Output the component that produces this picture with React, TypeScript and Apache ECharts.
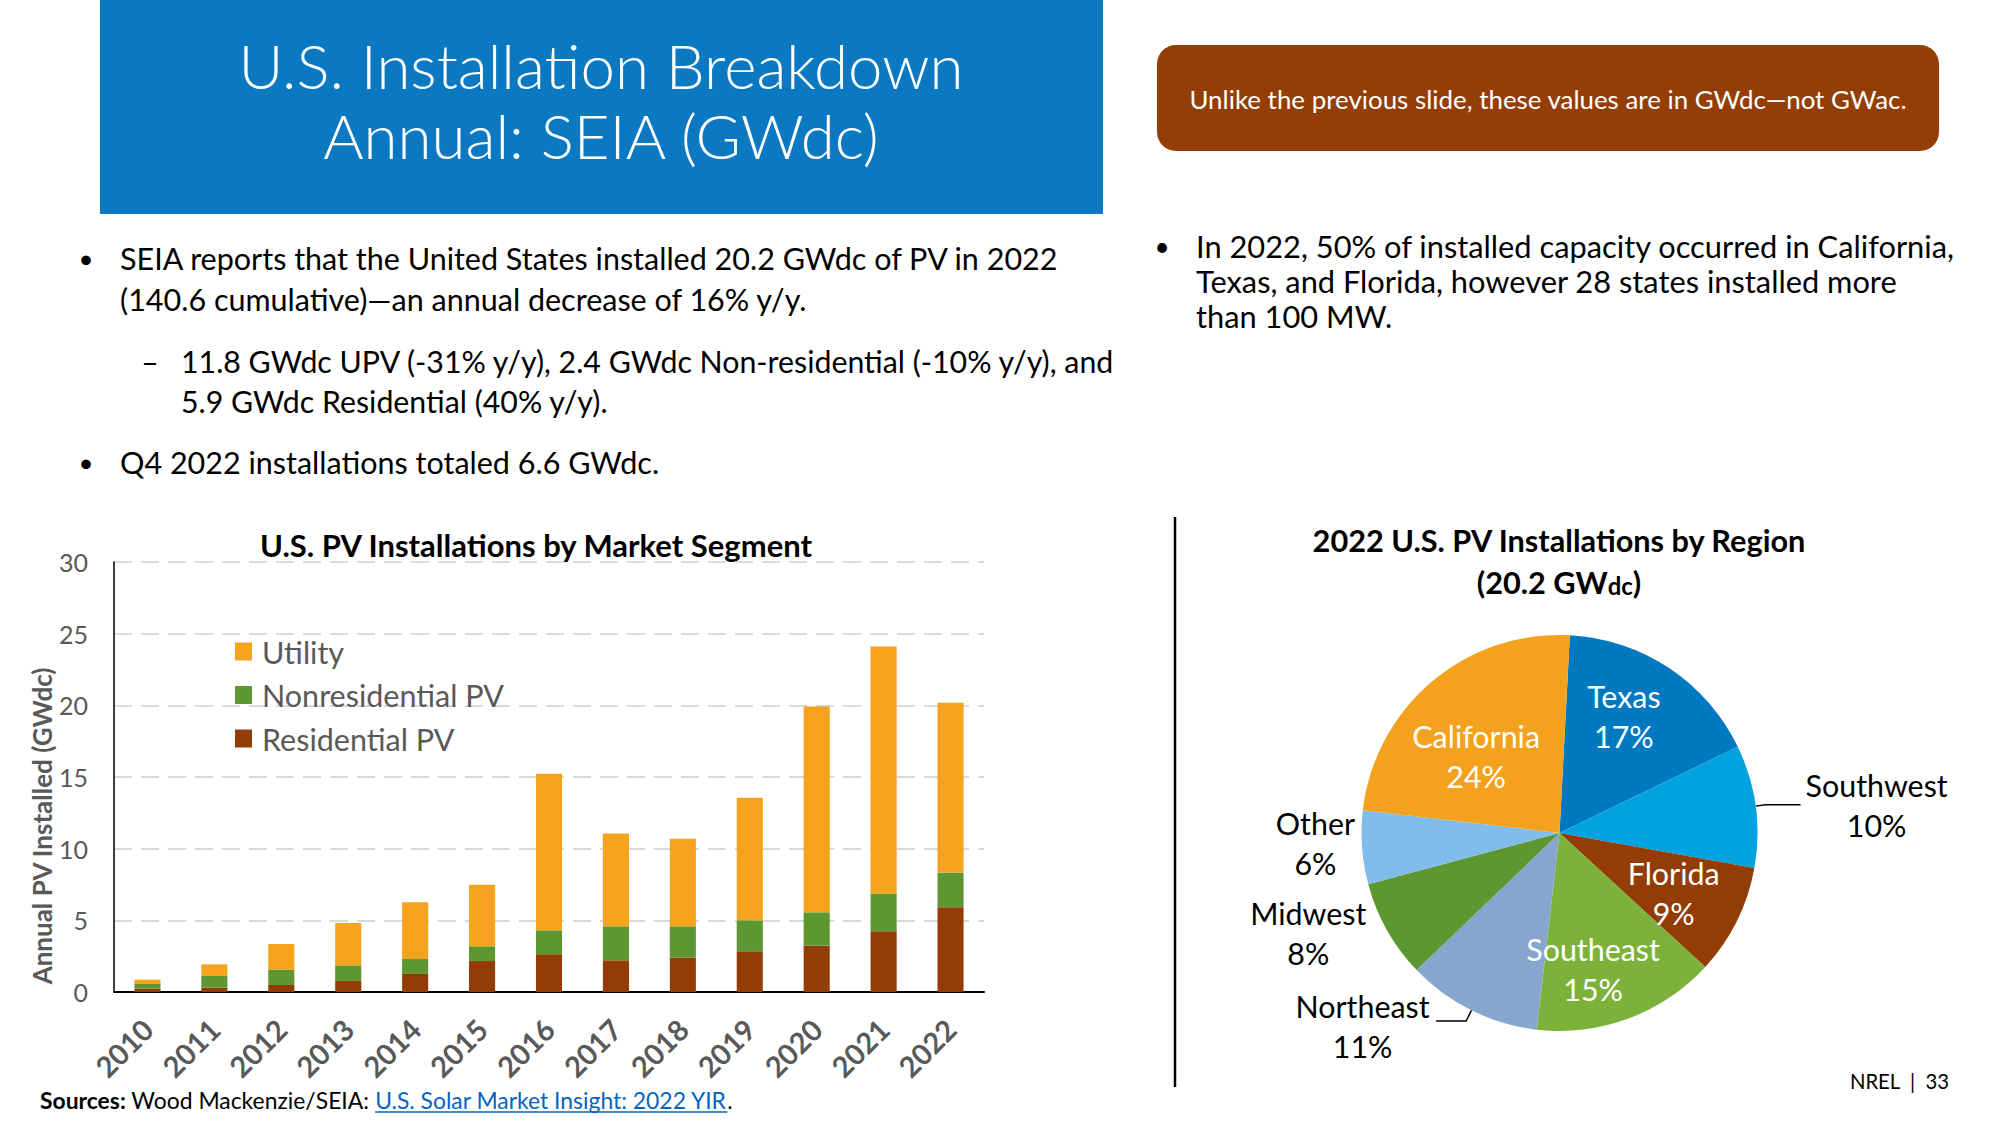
import React, { useEffect, useRef } from "react";
import * as echarts from "echarts";

// ---------------- DATA ----------------
const YEARS = ["2010", "2011", "2012", "2013", "2014", "2015", "2016", "2017", "2018", "2019", "2020", "2021", "2022"];
const RESIDENTIAL = [0.23, 0.3, 0.49, 0.77, 1.26, 2.16, 2.63, 2.21, 2.4, 2.84, 3.23, 4.23, 5.91];
const NONRESIDENTIAL = [0.33, 0.82, 1.07, 1.09, 1.04, 1.03, 1.67, 2.37, 2.18, 2.16, 2.33, 2.65, 2.42];
const UTILITY = [0.3, 0.81, 1.79, 2.95, 3.96, 4.3, 10.93, 6.47, 6.12, 8.56, 14.36, 17.23, 11.85];
const LEGEND_ORDER = ["Utility", "Nonresidential PV", "Residential PV"];
const Y_MIN = 0;
const Y_MAX = 30;
const Y_STEP = 5;

const REGIONS = ["Texas", "Southwest", "Florida", "Southeast", "Northeast", "Midwest", "Other", "California"];
const REGION_SHARES = [17, 10, 9, 15, 11, 8, 6, 24];
const INSIDE_LABEL_REGIONS = ["Texas", "Florida", "Southeast", "California"];
const LEADER_LINE_REGIONS = ["Southwest", "Northeast"];

const TITLE_LINES = ["U.S. Installation Breakdown", "Annual: SEIA (GWdc)"];
const NOTE_TEXT = "Unlike the previous slide, these values are in GWdc\u2014not GWac.";
const LEFT_BULLET_1 = [
  "SEIA reports that the United States installed 20.2 GWdc of PV in 2022",
  "(140.6 cumulative)\u2014an annual decrease of 16% y/y.",
];
const LEFT_SUB = [
  "11.8 GWdc UPV (-31% y/y), 2.4 GWdc Non-residential (-10% y/y), and",
  "5.9 GWdc Residential (40% y/y).",
];
const LEFT_BULLET_2 = "Q4 2022 installations totaled 6.6 GWdc.";
const RIGHT_BULLET = [
  "In 2022, 50% of installed capacity occurred in California,",
  "Texas, and Florida, however 28 states installed more",
  "than 100 MW.",
];
const BAR_TITLE = "U.S. PV Installations by Market Segment";
const PIE_TITLE = "2022 U.S. PV Installations by Region";
const Y_NAME = "Annual PV Installed (GWdc)";
const SRC_BOLD = "Sources:";
const SRC_TEXT = " Wood Mackenzie/SEIA: ";
const SRC_LINK = "U.S. Solar Market Insight: 2022 YIR";
const FOOTER = "NREL  |  33";

// ---------------- STYLE ----------------
const FONT = "Lato, 'Noto Sans', sans-serif";
const SEG_COLORS: Record<string, string> = {
  Utility: "#F5A21D",
  "Nonresidential PV": "#5E9732",
  "Residential PV": "#933C06",
};
const REGION_COLORS: Record<string, string> = {
  Texas: "#0079C1",
  Southwest: "#00A2E0",
  Florida: "#933C06",
  Southeast: "#7DB23A",
  Northeast: "#87A6CE",
  Midwest: "#5D9732",
  Other: "#80BDEB",
  California: "#F4A11E",
};
// radial push of inside labels, plus small fine-tune shifts (px)
const LABEL_PUSH: Record<string, number> = { California: 15, Texas: 32, Florida: 32, Southeast: 44 };
const LABEL_SHIFT: Record<string, [number, number]> = {
  California: [-6.5, 11],
  Texas: [-7.5, -4],
  Florida: [-5.5, 0],
  Southeast: [-12.5, -2],
  Other: [9, -5],
  Midwest: [7.5, -4],
  Northeast: [-1.5, 4.5],
  Southwest: [0, 0],
};
const LINE_LEN: Record<string, [number, number]> = {
  Southwest: [10, 35],
  Northeast: [12, 30],
  Other: [5, 6],
  Midwest: [14, 11],
};
const PIE_CX = 1559.5;
const PIE_CY = 833;

export default function App() {
  const ref = useRef<HTMLDivElement>(null);

  useEffect(() => {
    document.body.style.margin = "0";
    const el = ref.current!;
    const ctx = document.createElement("canvas").getContext("2d")!;
    const measure = (text: string, size: number, weight: string | number = "normal") => {
      ctx.font = `${weight} ${size}px ${FONT}`;
      return ctx.measureText(text).width;
    };
    const fit = (text: string, target: number, weight: string | number = "normal") =>
      Math.round(((100 * target) / measure(text, 100, weight)) * 10) / 10;

    const titleSize = fit(TITLE_LINES[0], 725, 300);
    const noteSize = fit(NOTE_TEXT, 719);
    const leftSize = fit(LEFT_BULLET_1[0], 939);
    const subSize = fit(LEFT_SUB[0], 934);
    const rightSize = fit(RIGHT_BULLET[0], 759);
    const barTitleSize = fit(BAR_TITLE, 554, "bold");
    const pieTitleSize = fit(PIE_TITLE, 495, "bold");
    const yNameSize = fit(Y_NAME, 318, "bold");
    const legendSize = fit("Nonresidential PV", 242);
    const tickSize = fit("30", 29);
    const xLabSize = fit("2010", 67, "bold");
    const pieLabSize = fit("Southwest", 142);
    const footerSize = fit(FOOTER, 100);

    const srcTotal100 =
      measure(SRC_BOLD, 100, "bold") + measure(SRC_TEXT, 100) + measure(SRC_LINK, 100) + measure(".", 100);
    const srcSize = Math.round(((100 * 693) / srcTotal100) * 10) / 10;
    const srcX0 = 40;
    const srcX1 = srcX0 + measure(SRC_BOLD, srcSize, "bold");
    const srcX2 = srcX1 + measure(SRC_TEXT, srcSize);
    const srcX3 = srcX2 + measure(SRC_LINK, srcSize);
    const srcY = 1100;

    const text = (
      x: number,
      y: number,
      t: string,
      size: number,
      opts: { weight?: string | number; color?: string; align?: string; lineHeight?: number; rotation?: number; rich?: any } = {}
    ) => ({
      type: "text",
      x,
      y,
      rotation: opts.rotation || 0,
      silent: true,
      style: {
        text: t,
        fill: opts.color || "#000",
        fontSize: size,
        fontFamily: FONT,
        fontWeight: opts.weight || "normal",
        align: opts.align || "left",
        textAlign: opts.align || "left",
        verticalAlign: "middle",
        textVerticalAlign: "middle",
        lineHeight: opts.lineHeight,
        rich: opts.rich,
      },
    });

    const bullet = (x: number, y: number, size: number) => text(x, y, "\u2022", size * 0.85, { align: "center" });

    const graphics: any[] = [
      { type: "rect", shape: { x: 100, y: 0, width: 1003, height: 214 }, style: { fill: "#0A79C1" }, silent: true },
      text(601, 99.5, TITLE_LINES.join("\n"), titleSize, { color: "#fff", align: "center", lineHeight: 70, weight: 300 }),
      {
        type: "rect",
        shape: { x: 1157, y: 45, width: 782, height: 106, r: 19 },
        style: { fill: "#943E06" },
        silent: true,
      },
      text(1548, 98.5, NOTE_TEXT, noteSize, { color: "#fff", align: "center" }),
      bullet(86, 258, leftSize),
      text(120, 258, LEFT_BULLET_1[0], leftSize),
      text(120, 299, LEFT_BULLET_1[1], leftSize),
      text(150, 361, "\u2013", subSize, { align: "center" }),
      text(181, 361, LEFT_SUB[0], subSize),
      text(181, 401, LEFT_SUB[1], subSize),
      bullet(86, 461.5, leftSize),
      text(120, 461.5, LEFT_BULLET_2, leftSize),
      bullet(1162, 246, rightSize),
      text(1196, 246, RIGHT_BULLET[0], rightSize),
      text(1196, 281, RIGHT_BULLET[1], rightSize),
      text(1196, 316.5, RIGHT_BULLET[2], rightSize),
      {
        type: "line",
        shape: { x1: 1175, y1: 517, x2: 1175, y2: 1087 },
        style: { stroke: "#000", lineWidth: 2.5 },
        silent: true,
      },
      text(536, 545, BAR_TITLE, barTitleSize, { weight: "bold", align: "center" }),
      text(1559, 540.5, PIE_TITLE, pieTitleSize, { weight: "bold", align: "center" }),
      text(1559, 582, "{t|(20.2 GW}{s|dc}{t|)}", pieTitleSize, {
        weight: "bold",
        align: "center",
        rich: {
          t: { fontSize: pieTitleSize, fontWeight: "bold", fontFamily: FONT, fill: "#000", color: "#000" },
          s: { fontSize: pieTitleSize * 0.78, fontWeight: "bold", fontFamily: FONT, fill: "#000", color: "#000", padding: [6, 0, 0, 0] },
        },
      }),
      text(42, 826, Y_NAME, yNameSize, { weight: "bold", align: "center", color: "#595959", rotation: Math.PI / 2 }),
      text(srcX0, srcY, SRC_BOLD, srcSize, { weight: "bold" }),
      text(srcX1, srcY, SRC_TEXT, srcSize),
      text(srcX2, srcY, SRC_LINK, srcSize, { color: "#0563C1" }),
      {
        type: "line",
        shape: { x1: srcX2, y1: srcY + 12, x2: srcX3, y2: srcY + 12 },
        style: { stroke: "#0563C1", lineWidth: 1.5 },
        silent: true,
      },
      text(srcX3, srcY, ".", srcSize),
      text(1949, 1081, FOOTER, footerSize, { align: "right" }),
    ];

    const segSeries = [
      { name: "Residential PV", data: RESIDENTIAL },
      { name: "Nonresidential PV", data: NONRESIDENTIAL },
      { name: "Utility", data: UTILITY },
    ].map((s) => ({
      type: "bar",
      name: s.name,
      stack: "total",
      data: s.data,
      barCategoryGap: "61%",
      itemStyle: { color: SEG_COLORS[s.name] },
      emphasis: { disabled: true },
    }));

    const pieData = REGIONS.map((name, i) => {
      const inside = INSIDE_LABEL_REGIONS.includes(name);
      const lens = LINE_LEN[name] || [10, 10];
      return {
        name,
        value: REGION_SHARES[i],
        itemStyle: { color: REGION_COLORS[name] },
        label: inside ? { position: "inside", color: "#fff" } : { position: "outside", color: "#000" },
        labelLine: {
          show: LEADER_LINE_REGIONS.includes(name),
          length: lens[0],
          length2: lens[1],
          smooth: false,
          lineStyle: { color: "#000", width: 1.5 },
        },
      };
    });

    const option: any = {
      animation: false,
      backgroundColor: "#fff",
      textStyle: { fontFamily: FONT },
      grid: { left: 114, right: 1016, top: 562, bottom: 133, containLabel: false },
      legend: {
        orient: "vertical",
        left: 230,
        top: 631,
        itemWidth: 17,
        itemHeight: 18,
        itemGap: 12.5,
        icon: "rect",
        selectedMode: false,
        data: LEGEND_ORDER,
        textStyle: { fontSize: legendSize, color: "#595959", fontFamily: FONT, padding: [0, 0, 0, 5], lineHeight: 30 },
      },
      xAxis: {
        type: "category",
        data: YEARS,
        axisLine: { show: true, lineStyle: { color: "#000", width: 2 } },
        axisTick: { show: false },
        axisLabel: {
          interval: 0,
          rotate: 45,
          margin: 32,
          fontSize: xLabSize,
          fontWeight: "bold",
          color: "#595959",
          fontFamily: FONT,
        },
      },
      yAxis: {
        type: "value",
        min: Y_MIN,
        max: Y_MAX,
        interval: Y_STEP,
        axisLine: { show: true, lineStyle: { color: "#000", width: 1.5 } },
        axisTick: { show: false },
        axisLabel: { fontSize: tickSize, color: "#595959", margin: 26, fontFamily: FONT },
        splitLine: { show: true, lineStyle: { color: "#D9D9D9", width: 2, type: [18, 9] } },
      },
      series: [
        ...segSeries,
        {
          type: "pie",
          center: [PIE_CX, PIE_CY],
          radius: 198,
          startAngle: 87,
          clockwise: true,
          avoidLabelOverlap: false,
          emphasis: { disabled: true },
          itemStyle: { borderWidth: 0 },
          label: {
            fontSize: pieLabSize,
            lineHeight: 40,
            fontFamily: FONT,
            formatter: (p: any) => `${p.name}\n${p.value}%`,
          },
          labelLayout: (p: any) => {
            const name = REGIONS[p.dataIndex];
            const r = p.labelRect;
            const shift = LABEL_SHIFT[name] || [0, 0];
            let lx = r.x + r.width / 2 + shift[0];
            let ly = r.y + r.height / 2 + shift[1];
            if (INSIDE_LABEL_REGIONS.includes(name)) {
              const vx = lx - PIE_CX;
              const vy = ly - PIE_CY;
              const len = Math.hypot(vx, vy) || 1;
              const push = LABEL_PUSH[name] || 0;
              return { x: lx + (push * vx) / len, y: ly + (push * vy) / len, align: "center", verticalAlign: "middle" };
            }
            return { x: lx, y: ly, align: "center", verticalAlign: "middle", labelLinePoints: p.labelLinePoints };
          },
          data: pieData,
        },
      ],
      graphic: { elements: graphics },
    };

    const chart = echarts.init(el, null, { renderer: "svg" });
    chart.setOption(option);
    return () => chart.dispose();
  }, []);

  return (
    <div
      ref={ref}
      style={{ position: "absolute", left: 0, top: 0, width: 2000, height: 1125, background: "#fff" }}
    />
  );
}
